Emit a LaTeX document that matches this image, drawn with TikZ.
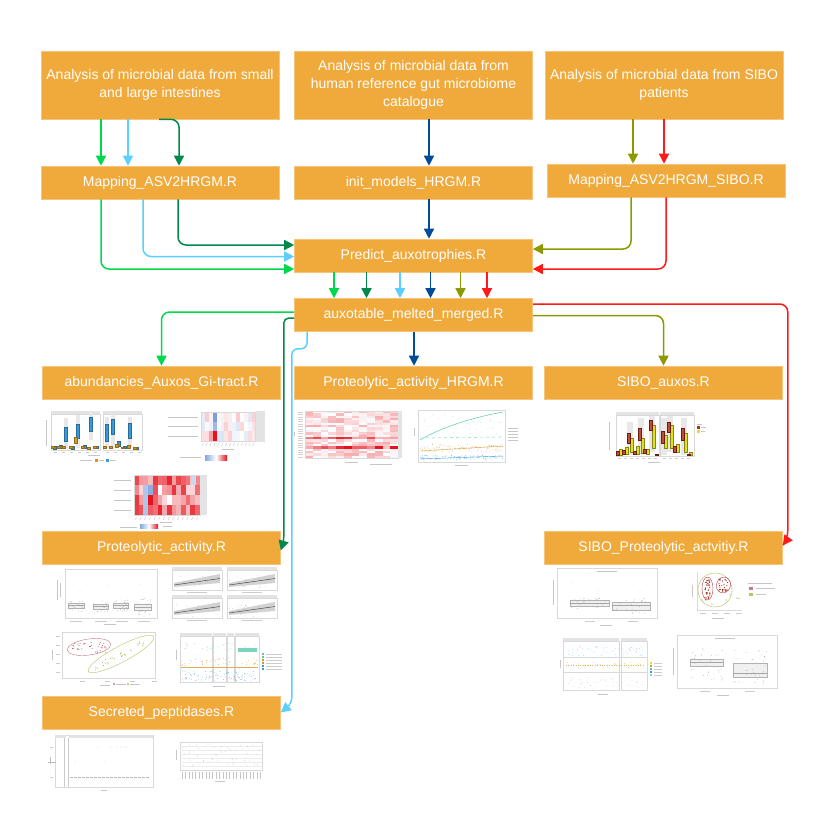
\documentclass[tikz,border=0pt]{standalone}
\usepackage{fontspec}
\setmainfont{Liberation Sans}
\usetikzlibrary{arrows.meta}
\definecolor{boxfill}{HTML}{F0A93B}
\definecolor{boxedge}{HTML}{F6C37A}
\definecolor{cgreen}{HTML}{00D84E}
\definecolor{cdgreen}{HTML}{00894C}
\definecolor{clblue}{HTML}{5BCFFF}
\definecolor{cdblue}{HTML}{004C99}
\definecolor{colive}{HTML}{8C9A00}
\definecolor{cred}{HTML}{FF1A1A}
\definecolor{tblue}{HTML}{3A9AD9}
\definecolor{torange}{HTML}{D39A2A}
\definecolor{tyellow}{HTML}{E0E020}
\definecolor{tdred}{HTML}{B0301A}
\definecolor{tgreen}{HTML}{5CC8A8}
\definecolor{tpink}{HTML}{B04050}
\definecolor{hmred}{HTML}{E4121C}
\definecolor{hmblue}{HTML}{4F7FD0}

\newcommand\hmcells[8]{%
  \foreach \ci in {1,...,#3}{\foreach \rj in {1,...,#4}{%
    \pgfmathrandominteger{\hv}{#7}{#8}%
    \ifnum\hv<0
      \pgfmathtruncatemacro{\hb}{-\hv}%
      \fill[hmblue!\hb!white] ({#1+(\ci-1)*#5},{#2+(\rj-1)*#6}) rectangle ++(#5,#6);%
    \else
      \fill[hmred!\hv!white] ({#1+(\ci-1)*#5},{#2+(\rj-1)*#6}) rectangle ++(#5,#6);%
    \fi
  }}}
\newcommand\scatpts[7]{%
  \foreach \k in {1,...,#2}{%
    \pgfmathsetmacro\px{#3+rnd*(#4-#3)}%
    \pgfmathsetmacro\py{#5+rnd*(#6-#5)}%
    \fill[#1] (\px,\py) circle[radius=#7];}}

\begin{document}
\begin{tikzpicture}[x=1pt,y=-1pt,
  box/.style={draw=boxedge, line width=0.6pt, fill=boxfill, text=white,
    font=\fontsize{14}{18}\selectfont, align=center, minimum width=238pt, inner sep=2pt},
  tall/.style={minimum height=68pt},
  short/.style={minimum height=33pt},
  conn/.style={line width=1.5pt, rounded corners=8pt, -{Triangle[length=10pt,width=10pt]}},
  frame/.style={draw=gray!30, line width=0.3pt},
  strip/.style={fill=gray!22},
  lbl/.style={draw=gray!45, line width=0.5pt},
  bx/.style={line width=0.2pt},
]
\pgfmathsetseed{12}
\fill[white] (0,0) rectangle (827,822);
\useasboundingbox (0,0) rectangle (827,822);

% ---------------- nodes ----------------
\node[box,tall] (n1) at (160,85) {Analysis of microbial data from small\\and large intestines};
\node[box,tall] (n2) at (413.5,85) {Analysis of microbial data from\\human reference gut microbiome\\catalogue};
\node[box,tall] (n3) at (664,85) {Analysis of microbial data from SIBO\\patients};
\node[box,short] (m1) at (160,182.5) {Mapping\_ASV2HRGM.R};
\node[box,short] (m2) at (413.5,182.5) {init\_models\_HRGM.R};
\node[box,short] (m3) at (666,180.5) {Mapping\_ASV2HRGM\_SIBO.R};
\node[box,short] (p) at (413.5,255.5) {Predict\_auxotrophies.R};
\node[box,short] (a) at (413.5,315) {auxotable\_melted\_merged.R};
\node[box,short] (r1) at (161.5,382.5) {abundancies\_Auxos\_Gi-tract.R};
\node[box,short] (r2) at (413.5,382.5) {Proteolytic\_activity\_HRGM.R};
\node[box,short] (r3) at (663.5,382.5) {SIBO\_auxos.R};
\node[box,short] (pa) at (161.5,547.5) {Proteolytic\_activity.R};
\node[box,short] (sp) at (663.5,547.5) {SIBO\_Proteolytic\_actvitiy.R};
\node[box,short] (sec) at (161.5,712.5) {Secreted\_peptidases.R};

% ---------------- x guides ----------------
\coordinate (xg1) at (101,0);
\coordinate (xb1) at (128,0);
\coordinate (xd1) at (159,0);
\coordinate (xb2) at (143,0);
\coordinate (xd2) at (178,0);
\coordinate (xdb) at (429,0);
\coordinate (xo1) at (633,0);
\coordinate (xr1) at (664,0);
\coordinate (xo2) at (631,0);
\coordinate (xr2) at (666,0);

% ---------------- connectors ----------------
\draw[conn,cgreen] (xg1 |- n1.south) -- (xg1 |- m1.north);
\draw[conn,clblue] (xb1 |- n1.south) -- (xb1 |- m1.north);
\draw[conn,cdgreen] (xd1 |- n1.south) -| ([xshift=19pt]m1.north);
\draw[conn,cdblue] (xdb |- n2.south) -- (xdb |- m2.north);
\draw[conn,cdblue] (xdb |- m2.south) -- (xdb |- p.north);
\draw[conn,colive] (xo1 |- n3.south) -- (xo1 |- m3.north);
\draw[conn,cred] (xr1 |- n3.south) -- (xr1 |- m3.north);

\draw[conn,cgreen] (xg1 |- m1.south) |- ([yshift=-13.5pt]p.west);
\draw[conn,clblue] (xb2 |- m1.south) |- ([yshift=-1pt]p.west);
\draw[conn,cdgreen] (xd2 |- m1.south) |- ([yshift=10.5pt]p.west);
\draw[conn,colive] (xo2 |- m3.south) |- ([yshift=6.5pt]p.east);
\draw[conn,cred] (xr2 |- m3.south) |- ([yshift=-13.5pt]p.east);

\foreach \c/\dx in {cgreen/-79.5, cdgreen/-47, clblue/-13.5, cdblue/17, colive/47, cred/73.5}
  \draw[conn,\c] ([xshift=\dx pt]p.south) -- ([xshift=\dx pt]a.north);

\draw[conn,cgreen] ([yshift=3pt]a.west) -| (r1.north);
\draw[conn,cdgreen,rounded corners=5pt] ([yshift=-3pt]a.west) -| ([xshift=3pt,yshift=7pt]pa.east) -- ([yshift=-3pt]pa.east);
\draw[conn,clblue,rounded corners=6pt] ([xshift=-106.5pt]a.south) -- ++(0,17) -| ([xshift=11pt,yshift=9pt]sec.east) -- ([yshift=0pt]sec.east);
\draw[conn,cdblue] ([xshift=0.5pt]a.south) -- ([xshift=0.5pt]r2.north);
\draw[conn,colive] ([yshift=-0.5pt]a.east) -| (r3.north);
\draw[conn,cred] ([yshift=11pt]a.east) -| ([xshift=5pt,yshift=9pt]sp.east) -- ([yshift=2pt]sp.east);

% ================= thumbnails =================
% --- A: abundance boxplot
\fill[strip] (51,411) rectangle (100,414);
\fill[strip] (103,411) rectangle (142,414);
\draw[frame] (51,414) rectangle (100,450);
\draw[frame] (103,414) rectangle (142,450);
\draw[lbl] (46,420) -- (46,446);
\foreach \x in {54,62,70,78,86,94,106,114,122,130,138} \draw[gray!40,line width=0.3pt] (\x,452) -- ++(3,0);
\draw[lbl] (88,455.5) -- (100,455.5);
\draw[lbl] (80,460.5) -- (92,460.5);
\fill[torange] (95,459) rectangle (98,462);
\draw[lbl] (99,460.5) -- (104,460.5);
\fill[tblue] (106,459) rectangle (109,462);
\draw[lbl] (110,460.5) -- (116,460.5);
\foreach \x/\ya/\yb in {66/418/448, 78/415/448, 91/412/440, 107/417/448, 113/414/448, 130/417/447}
  \fill[gray!18] ({\x-1.6},\ya) rectangle ({\x+1.6},\yb);
\foreach \x/\ya/\yb in {66/427/441, 78/424/438, 91/417/431, 107/424/441, 113/419/434, 130/423/438, 55/446/449, 61/445/448, 73/446/449, 85/445/448, 97/446/448, 119/441/446, 125/446/448, 137/447/449}
  \filldraw[bx,fill=tblue,draw=tblue!70!black] ({\x-1.5},\ya) rectangle ({\x+1.5},\yb);
\foreach \x/\ya/\yb in {53/446/448, 59/446/448, 64/446/448, 71/446/448, 76/437/443, 83/446/448, 89/447/449, 95/446/448, 105/446/448, 111/446/448, 117/444/447, 123/447/448, 129/445/448, 135/447/449}
  \filldraw[bx,fill=torange,draw=torange!70!black] ({\x-1.5},\ya) rectangle ({\x+1.5},\yb);

% --- B: heatmap 1
\hmcells{201}{412}{14}{3}{3.9}{9.7}{-20}{22}
\fill[hmblue!75!white] (212.7,412) rectangle ++(3.9,9.7);
\fill[hmblue!55!white] (212.7,421.7) rectangle ++(3.9,9.7);
\fill[hmred] (212.7,431.4) rectangle ++(3.9,9.7);
\fill[hmred!40!white] (208.8,431.4) rectangle ++(3.9,9.7);
\draw[frame] (201,412) rectangle (255.6,441.1);
\fill[strip] (255.6,411) rectangle (265,442);
\foreach \y in {417,426.5,436} \draw[lbl] (168,\y) -- (198,\y);
\foreach \i in {0,...,13} \draw[gray!45,line width=0.4pt] ({203.5+\i*3.9},443) -- ++(-1.5,3);
\draw[lbl] (222,449) -- (234,449);
\draw[lbl] (180,457.5) -- (201,457.5);
\shade[left color=hmblue!70!white, right color=white] (205,455) rectangle (216,460);
\shade[left color=white, right color=hmred] (216,455) rectangle (227,460);

% --- C: heatmap 2
\hmcells{134}{475}{14}{4}{4.7}{10}{15}{95}
\fill[hmblue!45!white] (143.4,485) rectangle ++(4.7,30);
\fill[hmblue!65!white] (148.1,485) rectangle ++(4.7,10);
\fill[hmred] (148.1,495) rectangle ++(4.7,10);
\fill[white] (166.9,495) rectangle ++(4.7,10);
\fill[white] (157.5,485) rectangle ++(4.7,10);
\fill[hmblue!30!white] (190.8,475) rectangle ++(4.7,10);
\draw[frame] (134,475) rectangle (199.8,515);
\fill[strip] (200,475) rectangle (207,515);
\foreach \y in {480,490,500,510} \draw[lbl] (114,\y) -- (131,\y);
\foreach \i in {0,...,13} \draw[gray!45,line width=0.4pt] ({136.5+\i*4.7},517) -- ++(-1.5,3);
\draw[lbl] (160,522) -- (172,522);
\draw[lbl] (120,527) -- (137,527);
\shade[left color=hmblue!70!white, right color=white] (140,524) rectangle (149,528);
\shade[left color=white, right color=hmred] (149,524) rectangle (158,528);
\draw[lbl] (163,526) -- (172,526);

% --- D: HRGM heatmap
\hmcells{305}{411}{12}{20}{7.75}{2.35}{-8}{35}
\hmcells{305}{436.85}{12}{1}{7.75}{2.35}{30}{100}
\hmcells{305}{446.25}{12}{1}{7.75}{2.35}{20}{100}
\draw[frame] (305,411) rectangle (398,458);
\fill[strip] (398,411) rectangle (402,458);
\foreach \j in {0,...,19} \draw[gray!35,line width=0.3pt] (298,{412.2+\j*2.35}) -- ++(5,0);
\draw[lbl] (294,432) -- (294,436);
\draw[lbl] (345,462) -- (358,462);
\draw[lbl] (370,464) -- (392,464);

% --- E: HRGM line plot
\draw[frame] (418,410) rectangle (505,462);
\scatpts{tgreen!70}{45}{420}{503}{412}{440}{0.35pt}
\draw[tgreen, line width=0.5pt] (420,440) .. controls (440,428) and (470,418) .. (503,412);
\draw[tgreen!80, line width=0.4pt, dashed] (420,438) -- (503,437);
\scatpts{torange!80}{110}{420}{503}{444}{452}{0.35pt}
\draw[torange, line width=0.4pt] (420,451) -- (503,446);
\scatpts{tblue!80}{110}{420}{503}{455}{460}{0.35pt}
\draw[tblue, line width=0.4pt] (420,459) -- (503,456);
\foreach \y in {428,431,434,437,440} \draw[lbl,line width=0.3pt] (508,\y) -- (518,\y);
\draw[lbl] (414,428) -- (414,436);
\draw[lbl] (455,465) -- (468,465);

% --- F: SIBO auxos
\fill[strip] (616,412) rectangle (659,415);
\fill[strip] (660,412) rectangle (694,415);
\draw[frame] (616,415) rectangle (659,456);
\draw[frame] (660,415) rectangle (694,456);
\draw[lbl] (609,422) -- (609,450);
\foreach \x in {618,624,630,636,642,648,654,663,669,675,681,687} \draw[gray!40,line width=0.3pt] (\x,458) -- ++(3,0);
\draw[lbl] (648,462) -- (660,462);
\fill[tdred] (697,426) rectangle (700,429);
\fill[tyellow] (697,430) rectangle (700,433);
\draw[lbl,line width=0.3pt] (697,424) -- (702,424);
\draw[lbl,line width=0.3pt] (701,427.5) -- (706,427.5);
\draw[lbl,line width=0.3pt] (701,431.5) -- (705,431.5);
\foreach \x/\ya/\yb in {629/422/455, 640/418/455, 651/416/452, 663/418/455, 669/416/452, 683/418/455}
  \fill[gray!18] ({\x-2},\ya) rectangle ({\x+4},\yb);
\foreach \x/\ya/\yb in {621/449/455, 627/447/454, 632/438/452, 638/446/454, 643/438/453, 648/449/454, 654/425/448, 666/435/448, 672/425/448, 678/444/452, 686/433/452, 691/452/455}
  \filldraw[bx,fill=tyellow,draw=tyellow!60!black] ({\x-1.5},\ya) rectangle ({\x+1.5},\yb);
\foreach \x/\ya/\yb in {618/451/455, 624/450/454, 629/433/443, 635/451/454, 640/428/440, 645/449/453, 651/420/430, 657/454/455, 663/431/443, 669/422/432, 675/446/452, 683/428/440, 689/454/455}
  \filldraw[bx,fill=tdred!85,draw=tdred!60!black] ({\x-1.5},\ya) rectangle ({\x+1.5},\yb);

% --- G: Proteolytic boxplot
\draw[frame] (65,569) rectangle (157,618);
\draw[lbl] (57,580) -- (57,600);
\draw[lbl] (60,583) -- (60,597);
\foreach \xa/\xb/\ya/\ym/\yb in {68/84/603/605/608, 93/108/604/606/609, 113/128/603/605/608, 134/151/604/607/610}{
  \filldraw[bx,fill=gray!12,draw=gray!60] (\xa,\ya) rectangle (\xb,\yb);
  \draw[gray!70,line width=0.4pt] (\xa,\ym) -- (\xb,\ym);
}
\scatpts{gray!70}{20}{68}{84}{600}{612}{0.4pt}
\scatpts{gray!70}{20}{93}{108}{601}{613}{0.4pt}
\scatpts{gray!70}{20}{113}{128}{600}{612}{0.4pt}
\scatpts{gray!70}{25}{134}{151}{598}{615}{0.4pt}
\foreach \x/\y in {80/591, 107/585, 146/573, 120/598, 140/585, 126/603} \fill[gray!60] (\x,\y) circle[radius=0.4pt];
\foreach \x in {70,95,116,138} \draw[gray!40,line width=0.3pt] (\x,621) -- ++(12,0);
\draw[lbl] (104,624.5) -- (116,624.5);

% --- H: four regression panels
\foreach \x/\y in {172/567, 227/567, 172/595, 227/595}{
  \fill[strip] (\x,\y) rectangle ({\x+50},{\y+3});
  \draw[frame] (\x,{\y+3}) rectangle ({\x+50},{\y+23});
  \fill[gray!35] ({\x+2},{\y+16}) -- ({\x+48},{\y+7}) -- ({\x+48},{\y+16}) -- ({\x+2},{\y+20}) -- cycle;
  \draw[black!70,line width=0.5pt] ({\x+2},{\y+18}) -- ({\x+48},{\y+11.5});
  \draw[gray!40,line width=0.3pt] ({\x+15},{\y+25}) -- ++(20,0);
}
\scatpts{gray!60}{25}{174}{220}{575}{589}{0.35pt}
\scatpts{gray!60}{20}{229}{275}{575}{589}{0.35pt}
\scatpts{gray!60}{15}{174}{220}{603}{617}{0.35pt}
\scatpts{gray!60}{25}{229}{260}{605}{617}{0.35pt}

% --- I: PCA ellipses
\draw[frame] (62,632) rectangle (155,678);
\draw[tpink!70, line width=0.4pt, rotate around={8:(89,647)}] (89,647) ellipse [x radius=22pt, y radius=8pt];
\draw[colive!60, line width=0.4pt, rotate around={28:(121,654)}] (121,654) ellipse [x radius=37pt, y radius=8pt];
\scatpts{tpink}{35}{72}{106}{642}{653}{0.5pt}
\foreach \k in {1,...,30}{
  \pgfmathsetmacro\tt{rnd}
  \pgfmathsetmacro\px{95+\tt*50}
  \pgfmathsetmacro\py{668-\tt*26+(rnd-0.5)*6}
  \fill[colive!80] (\px,\py) circle[radius=0.5pt];
}
\foreach \y in {636,645,654,663,672} \draw[gray!40,line width=0.3pt] (56,\y) -- ++(4,0);
\draw[lbl] (52,650) -- (52,660);
\foreach \x in {80,105,130,152} \draw[gray!40,line width=0.3pt] (\x,681) -- ++(5,0);
\draw[lbl] (100,685) -- (110,685);
\fill[tpink] (114,684) circle[radius=0.8pt];
\draw[lbl] (116,684) -- (126,684);
\fill[colive] (128,684) circle[radius=0.8pt];
\draw[lbl] (130,684) -- (140,684);

% --- J: facet scatter
\foreach \xa/\xb in {180/212, 213/226, 227/234, 235/259}{
  \fill[strip] (\xa,633) rectangle (\xb,636);
  \draw[frame] (\xa,636) rectangle (\xb,682);
}
\scatpts{tgreen}{30}{181}{258}{643}{651}{0.35pt}
\fill[tgreen!80] (238,648) rectangle (257,652);
\scatpts{torange}{60}{181}{258}{658}{668}{0.35pt}
\draw[torange!80,line width=0.5pt] (181,667) -- (258,667);
\scatpts{tblue}{90}{181}{258}{671}{681}{0.35pt}
\foreach \y/\c in {654/tgreen, 657/tgreen, 660/torange, 663/torange, 666/tblue, 669/tblue}{
  \fill[\c] (262,{\y-1}) rectangle (264,{\y+1});
  \draw[gray!40,line width=0.3pt] (266,\y) -- (282,\y);
}
\draw[lbl] (176,650) -- (176,660);
\draw[lbl] (213,686) -- (225,686);

% --- K: SIBO boxplot 1
\draw[frame] (557,568) rectangle (657,618);
\draw[lbl] (597,571) -- (617,571);
\draw[lbl] (553,580) -- (553,605);
\filldraw[bx,fill=gray!12,draw=gray!60] (570,600) rectangle (609,606);
\draw[gray!70,line width=0.4pt] (570,603) -- (609,603);
\filldraw[bx,fill=gray!12,draw=gray!60] (612,602) rectangle (650,610);
\draw[gray!70,line width=0.4pt] (612,605) -- (650,605);
\scatpts{gray!70}{35}{570}{609}{598}{609}{0.4pt}
\scatpts{gray!70}{25}{612}{650}{598}{614}{0.4pt}
\foreach \x/\y in {573/583, 590/573, 640/591, 598/590} \fill[gray!60] (\x,\y) circle[radius=0.4pt];
\foreach \x in {585,628} \draw[gray!40,line width=0.3pt] (\x,621) -- ++(10,0);
\draw[lbl] (600,625) -- (612,625);

% --- L: SIBO PCA
\draw[frame] (697,572) -- (697,610) -- (742,610);
\draw[colive!65, line width=0.4pt] (715,590) ellipse [x radius=17pt, y radius=17pt];
\draw[tpink, line width=0.4pt] (707.5,588.5) ellipse [x radius=5.5pt, y radius=11.5pt];
\draw[tpink, line width=0.4pt, rotate around={-20:(723.5,585)}] (723.5,585) ellipse [x radius=7pt, y radius=8pt];
\scatpts{tdred}{40}{705}{710}{579}{600}{0.6pt}
\scatpts{tdred}{30}{719}{728}{579}{592}{0.6pt}
\foreach \x/\y in {737/598, 739/598.5, 702/600, 712/604, 726/600, 730/595} \fill[colive!80] (\x,\y) circle[radius=0.6pt];
\draw[lbl] (692,585) -- (692,597);
\foreach \x in {700,712,724,736} \draw[gray!40,line width=0.3pt] (\x,613) -- ++(6,0);
\draw[lbl] (712,618) -- (724,618);
\draw[lbl] (748,583) -- (772,583);
\fill[tpink!70] (749,587) rectangle (753,590);
\draw[lbl] (756,588.5) -- (775,588.5);
\fill[colive!60] (749,593) rectangle (753,596);
\draw[lbl] (756,594.5) -- (766,594.5);

% --- M: SIBO facet scatter
\fill[strip] (563,638) rectangle (619,641);
\fill[strip] (621,638) rectangle (647,641);
\draw[frame] (563,641) rectangle (619,690);
\draw[frame] (621,641) rectangle (647,690);
\draw[gray!30,line width=0.3pt] (563,657) -- (647,657);
\draw[gray!30,line width=0.3pt] (563,672) -- (647,672);
\scatpts{tblue!55}{70}{566}{645}{646}{656}{0.35pt}
\scatpts{torange!70}{40}{566}{645}{662}{668}{0.35pt}
\draw[torange!70,line width=0.4pt,dotted] (566,665) -- (645,665);
\scatpts{gray!55}{40}{566}{645}{676}{688}{0.35pt}
\draw[lbl] (560,660) -- (560,668);
\draw[lbl] (598,694) -- (608,694);
\foreach \y/\c in {663/tyellow, 666/torange, 669/tgreen, 672/tblue, 675/tblue!50}{
  \fill[\c] (650,{\y-1}) rectangle (652,{\y+1});
  \draw[gray!40,line width=0.3pt] (654,\y) -- (662,\y);
}

% --- N: SIBO boxplot 2
\draw[frame] (677,635) rectangle (777,688);
\draw[lbl] (715,638) -- (735,638);
\draw[lbl] (673,648) -- (673,675);
\filldraw[bx,fill=gray!12,draw=gray!60] (690,659) rectangle (723,666);
\draw[gray!70,line width=0.4pt] (690,662) -- (723,662);
\filldraw[bx,fill=gray!12,draw=gray!60] (733,663) rectangle (767,677);
\draw[gray!70,line width=0.4pt] (733,673) -- (767,673);
\scatpts{gray!70}{40}{690}{723}{648}{680}{0.4pt}
\scatpts{gray!70}{35}{733}{767}{650}{684}{0.4pt}
\foreach \x in {700,745} \draw[gray!40,line width=0.3pt] (\x,691) -- ++(10,0);
\draw[lbl] (717,695) -- (729,695);

% --- O: Secreted peptidases
\draw[frame] (55,735) rectangle (153,787);
\fill[strip] (55,735) rectangle (66,738);
\fill[strip] (69,735) rectangle (153,738);
\draw[gray!40,line width=0.3pt] (64,738) -- (64,787);
\draw[gray!40,line width=0.3pt] (68,738) -- (68,787);
\draw[gray!55,line width=0.5pt,dash pattern=on 3pt off 1pt] (70,777) -- (150,777);
\foreach \x in {98,111,117,121,125,127} \fill[gray!70] (\x,747) circle[radius=0.4pt];
\foreach \x in {75,105} \fill[gray!70] (\x,762) circle[radius=0.4pt];
\draw[gray!50,line width=0.4pt] (50,757) -- (50,764);
\draw[gray!50,line width=0.4pt] (48,762) -- (56,762);
\draw[gray!40,line width=0.3pt] (50,747) -- (53,747);
\draw[gray!40,line width=0.3pt] (50,777) -- (53,777);
\draw[lbl] (101,790) -- (107,790);
\draw[frame] (180,742) rectangle (262,770);
\foreach \y in {746,750,754,758,762,766} \draw[gray!15,line width=0.3pt] (180,\y) -- (262,\y);
\scatpts{gray!60}{60}{182}{260}{744}{768}{0.35pt}
\foreach \i in {0,...,23} \draw[gray!45,line width=0.4pt] ({182+\i*3.4},772) -- ++(0,7);
\draw[lbl] (176,750) -- (176,760);
\draw[lbl] (215,781) -- (225,781);
\end{tikzpicture}
\end{document}
